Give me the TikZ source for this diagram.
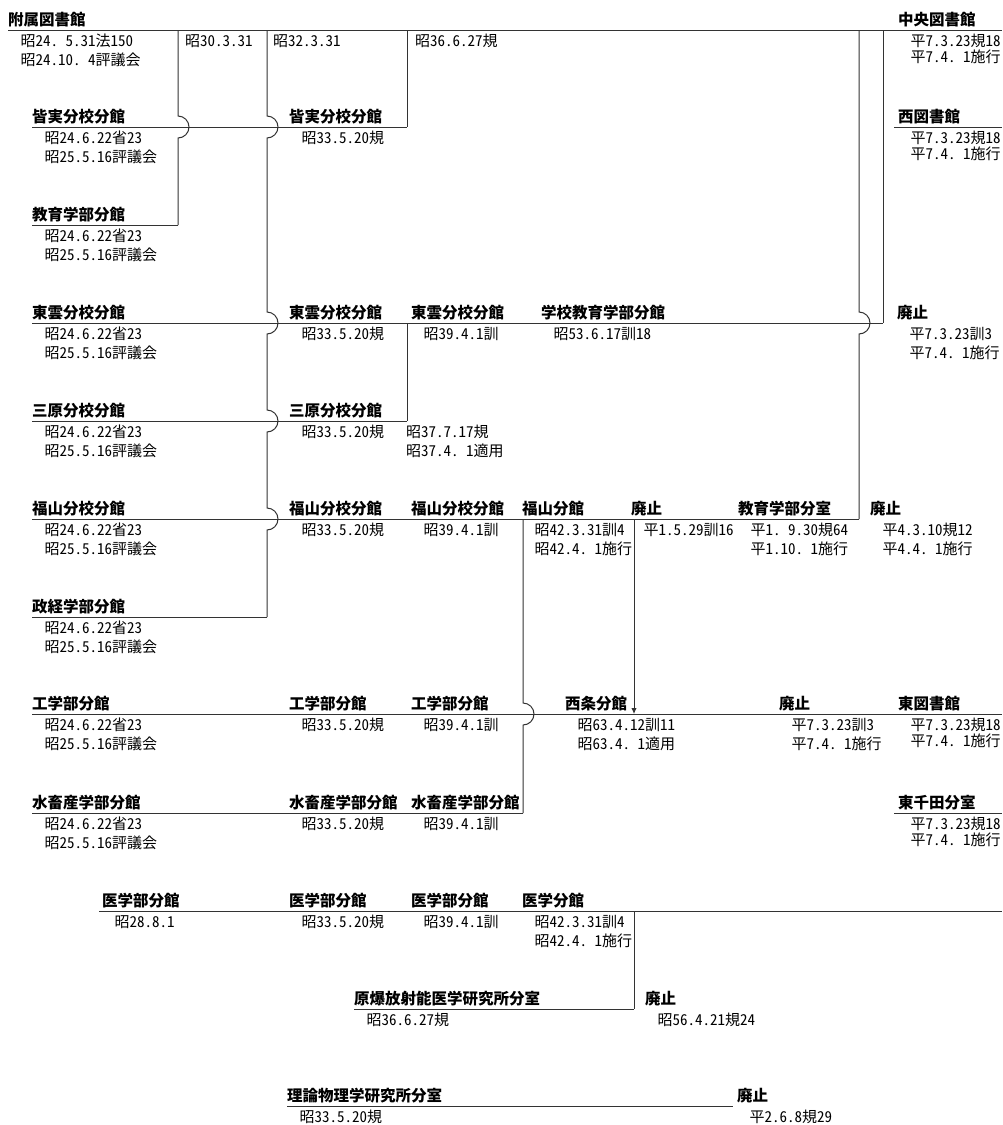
\documentclass[tikz,border=0pt]{standalone}
\usepackage{fontspec}
\usepackage{tikz}
\usetikzlibrary{arrows.meta}
\newfontfamily\jp{Noto Sans CJK JP}
\newfontfamily\jpd{Noto Sans CJK JP}[RawFeature=+hwid]
\def\hopat(#1:#2){-- (#1,#2-11) arc (-90:90:11)}
\def\entry[#1](#2,#3)#4#5#6{\node[lbl] (#4) at (#2,#3-10.5) {#5}; \node[#1] (#4-d) at (#2+12.5,#3+4) {#6};}
\tikzset{
	lbl/.style={anchor=west, inner sep=0pt, font=\jp\bfseries\fontsize{15.5pt}{18pt}\selectfont},
	dat/.style={anchor=north west, inner sep=0pt, align=left, font=\jpd\fontsize{15pt}{19pt}\selectfont},
	datr/.style={dat, font=\jpd\fontsize{15pt}{16pt}\selectfont},
	ln/.style={line width=1pt, color=black!80},
}
\begin{document}
\begin{tikzpicture}[x=1pt, y=-1pt]
			%%%%% START %%%%%
			\useasboundingbox (0,0) rectangle (1002,1125);
			
			% horizontal lines
			\draw[ln] (8,30) -- (1002,30);
			\draw[ln] (32,127) -- (407,127);
			\draw[ln] (894,127) -- (1002,127);
			\draw[ln] (32,225) -- (178,225);
			\draw[ln] (32,323) -- (883,323);
			\draw[ln] (32,421) -- (407,421);
			\draw[ln] (32,519) -- (859,519);
			\draw[ln] (32,617) -- (267,617);
			\draw[ln] (32,714) -- (1002,714);
			\draw[ln] (32,813) -- (523,813);
			\draw[ln] (894,813) -- (1002,813);
			\draw[ln] (99,911) -- (1002,911);
			\draw[ln] (354,1009) -- (634,1009);
			\draw[ln] (287,1106) -- (733,1106);
			
			% vertical lines
			\draw[ln] (178,30) \hopat(178:127) -- (178,225);
			\draw[ln] (267,30) \hopat(267:127) \hopat(267:323) \hopat(267:421) \hopat(267:519) -- (267,617);
			\draw[ln] (407,30) -- (407,127);
			\draw[ln] (407,323) -- (407,421);
			\draw[ln] (883,30) -- (883,323);
			\draw[ln] (859,30) \hopat(859:323) -- (859,519);
			\draw[ln] (523,519) \hopat(523:714) -- (523,813);
			\draw[ln, -{Latex[length=6pt,width=5.5pt]}] (634,519) -- (634,714);
			\draw[ln] (634,911) -- (634,1009);
			
			% top
			\entry[dat](8,30){fuzoku}{附属図書館}{昭24.\ 5.31法150\\昭24.10.\ 4評議会}
			\node[dat] (d30) at (185,34) {昭30.3.31};
			\node[dat] (d32) at (273,34) {昭32.3.31};
			\node[dat] (d36) at (415,34) {昭36.6.27規};
			\entry[datr](898,30){chuo}{中央図書館}{平7.3.23規18\\平7.4.\ 1施行}
			
			\entry[dat](32,127){minami-a}{皆実分校分館}{昭24.6.22省23\\昭25.5.16評議会}
			\entry[dat](289,127){minami-b}{皆実分校分館}{昭33.5.20規}
			\entry[datr](898,127){nishi}{西図書館}{平7.3.23規18\\平7.4.\ 1施行}
			
			\entry[dat](32,225){kyoiku}{教育学部分館}{昭24.6.22省23\\昭25.5.16評議会}
			
			\entry[dat](32,323){shino-a}{東雲分校分館}{昭24.6.22省23\\昭25.5.16評議会}
			\entry[dat](289,323){shino-b}{東雲分校分館}{昭33.5.20規}
			\entry[dat](411,323){shino-c}{東雲分校分館}{昭39.4.1訓}
			\entry[dat](541,323){gakko}{学校教育学部分館}{昭53.6.17訓18}
			\entry[dat](897,323){haishi-a}{廃止}{平7.3.23訓3\\平7.4.\ 1施行}
			
			\entry[dat](32,421){mihara-a}{三原分校分館}{昭24.6.22省23\\昭25.5.16評議会}
			\entry[dat](289,421){mihara-b}{三原分校分館}{昭33.5.20規}
			\node[dat] (d37) at (406,425) {昭37.7.17規\\昭37.4.\ 1適用};
			
			\entry[dat](32,519){fuku-a}{福山分校分館}{昭24.6.22省23\\昭25.5.16評議会}
			\entry[dat](289,519){fuku-b}{福山分校分館}{昭33.5.20規}
			\entry[dat](411,519){fuku-c}{福山分校分館}{昭39.4.1訓}
			\entry[dat](522,519){fuku-d}{福山分館}{昭42.3.31訓4\\昭42.4.\ 1施行}
			\entry[dat](631,519){haishi-b}{廃止}{平1.5.29訓16}
			\entry[dat](738,519){kyoiku-s}{教育学部分室}{平1.\ 9.30規64\\平1.10.\ 1施行}
			\entry[dat](870,519){haishi-c}{廃止}{平4.3.10規12\\平4.4.\ 1施行}
			
			\entry[dat](32,617){seikei}{政経学部分館}{昭24.6.22省23\\昭25.5.16評議会}
			
			\entry[dat](32,714){kogaku-a}{工学部分館}{昭24.6.22省23\\昭25.5.16評議会}
			\entry[dat](289,714){kogaku-b}{工学部分館}{昭33.5.20規}
			\entry[dat](411,714){kogaku-c}{工学部分館}{昭39.4.1訓}
			\entry[dat](565,714){saijo}{西条分館}{昭63.4.12訓11\\昭63.4.\ 1適用}
			\entry[dat](779,714){haishi-d}{廃止}{平7.3.23訓3\\平7.4.\ 1施行}
			\entry[datr](898,714){higashi}{東図書館}{平7.3.23規18\\平7.4.\ 1施行}
			
			\entry[dat](32,813){suichiku-a}{水畜産学部分館}{昭24.6.22省23\\昭25.5.16評議会}
			\entry[dat](289,813){suichiku-b}{水畜産学部分館}{昭33.5.20規}
			\entry[dat](411,813){suichiku-c}{水畜産学部分館}{昭39.4.1訓}
			\entry[datr](898,813){senda}{東千田分室}{平7.3.23規18\\平7.4.\ 1施行}
			
			\entry[dat](102,911){igaku-a}{医学部分館}{昭28.8.1}
			\entry[dat](289,911){igaku-b}{医学部分館}{昭33.5.20規}
			\entry[dat](411,911){igaku-c}{医学部分館}{昭39.4.1訓}
			\entry[dat](522,911){igaku-d}{医学分館}{昭42.3.31訓4\\昭42.4.\ 1施行}
			
			\entry[dat](354,1009){genbaku}{原爆放射能医学研究所分室}{昭36.6.27規}
			\entry[dat](645,1009){haishi-e}{廃止}{昭56.4.21規24}
			
			\entry[dat](287,1106){riron}{理論物理学研究所分室}{昭33.5.20規}
			\entry[dat](737,1106){haishi-f}{廃止}{平2.6.8規29}
			
			%%%%% END %%%%%
\end{tikzpicture}
\end{document}
